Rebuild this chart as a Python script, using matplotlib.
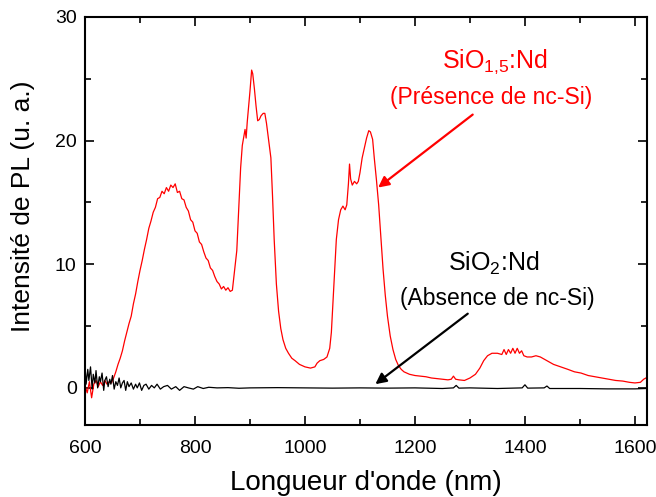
import matplotlib
matplotlib.use("Agg")
import matplotlib.pyplot as plt
from matplotlib.ticker import MultipleLocator

plt.rcParams['font.family'] = ['Liberation Sans', 'DejaVu Sans']
plt.rcParams['mathtext.fontset'] = 'custom'
plt.rcParams['mathtext.rm'] = 'Liberation Sans'
plt.rcParams['mathtext.it'] = 'Liberation Sans'
plt.rcParams['mathtext.default'] = 'regular'

# SiO1,5:Nd (red)
red_nm = [600, 604, 608, 612, 616, 620, 624, 628, 632, 636, 640, 644, 648, 652, 656, 660,
          664, 668, 672, 676, 680, 684, 688, 692, 696, 700, 704, 708, 712, 716, 720, 724,
          728, 732, 736, 740, 744, 748, 752, 756, 760, 764, 768, 772, 776, 780, 784, 788,
          792, 796, 800, 804, 808, 812, 816, 820, 824, 828, 832, 836, 840, 844, 848, 852,
          856, 860, 864, 868, 872, 876, 880, 883, 886, 889, 891, 893, 895, 897, 900, 903,
          905, 908, 911, 914, 917, 920, 924, 927, 930, 934, 938, 941, 944, 948, 952, 956,
          960, 965, 970, 976, 982, 990, 1000, 1010, 1018, 1022, 1027, 1034, 1040, 1045,
          1048, 1051, 1054, 1057, 1061, 1065, 1069, 1073, 1076, 1079, 1081, 1083, 1086,
          1090, 1094, 1097, 1100, 1104, 1108, 1112, 1116, 1119, 1123, 1126, 1130, 1134,
          1138, 1142, 1146, 1150, 1155, 1160, 1165, 1170, 1175, 1180, 1190, 1200, 1210,
          1220, 1230, 1240, 1250, 1260, 1266, 1270, 1274, 1280, 1290, 1300, 1310, 1318,
          1325, 1332, 1340, 1350, 1358, 1362, 1366, 1370, 1374, 1378, 1382, 1386, 1390,
          1394, 1398, 1404, 1412, 1420, 1428, 1440, 1452, 1465, 1478, 1490, 1502, 1515,
          1528, 1540, 1552, 1565, 1578, 1590, 1600, 1610, 1616, 1620]
red_val = [0.2, -0.4, 0.5, -0.8, 0.3, 0.6, 0.1, 0.5, 0.2, 0.6, 0.3, 0.5, 0.4, 0.8, 1.3, 1.9,
           2.4, 3.0, 3.8, 4.5, 5.2, 5.8, 6.8, 7.6, 8.6, 9.5, 10.3, 11.2, 12.0, 12.9, 13.5, 14.2,
           14.6, 15.3, 15.4, 15.9, 15.7, 16.2, 15.9, 16.4, 16.2, 16.5, 15.8, 15.9, 15.3, 15.2,
           14.6, 14.3, 13.6, 13.4, 12.7, 12.5, 11.8, 11.6, 11.0, 10.5, 10.3, 9.7, 9.5, 9.0,
           8.6, 8.4, 8.0, 8.2, 7.9, 8.1, 7.8, 7.9, 9.5, 11.1, 14.9, 17.8, 19.6, 20.4, 20.9,
           20.2, 21.5, 22.5, 24.0, 25.7, 25.4, 24.2, 22.8, 21.6, 21.7, 22.0, 22.2, 22.2, 21.4,
           20.0, 18.6, 15.5, 12.0, 8.4, 6.2, 4.8, 3.9, 3.2, 2.8, 2.4, 2.2, 1.9, 1.7, 1.6, 1.7,
           2.0, 2.2, 2.3, 2.5, 3.2, 4.5, 7.0, 9.5, 12.0, 13.6, 14.4, 14.7, 14.4, 14.8, 16.5,
           18.1, 16.9, 16.4, 16.7, 16.5, 16.7, 17.4, 18.6, 19.4, 20.2, 20.8, 20.7, 20.1, 18.6,
           16.8, 14.8, 12.2, 9.6, 7.5, 5.8, 4.2, 3.1, 2.3, 1.8, 1.5, 1.3, 1.1, 1.0, 0.95, 0.9,
           0.8, 0.75, 0.7, 0.65, 0.7, 0.95, 0.7, 0.65, 0.6, 0.8, 1.1, 1.6, 2.2, 2.6, 2.8, 2.8,
           2.7, 3.1, 2.7, 3.1, 2.8, 3.2, 2.8, 3.2, 2.8, 3.0, 2.6, 2.5, 2.5, 2.6, 2.5, 2.2, 1.9,
           1.7, 1.5, 1.3, 1.2, 1.0, 0.9, 0.8, 0.7, 0.6, 0.55, 0.45, 0.4, 0.45, 0.7, 0.8]

# SiO2:Nd (black)
black_nm = [600, 602, 605, 607, 610, 613, 615, 618, 620, 623, 626, 628, 631, 634, 636, 639,
            642, 645, 647, 650, 653, 656, 659, 662, 665, 668, 671, 674, 677, 680, 684, 688,
            692, 695, 699, 703, 707, 711, 716, 721, 726, 731, 737, 743, 750, 757, 765, 772,
            780, 788, 797, 805, 815, 825, 840, 860, 880, 900, 950, 1000, 1050, 1100, 1150,
            1200, 1250, 1270, 1275, 1280, 1300, 1350, 1395, 1400, 1405, 1435, 1440, 1445,
            1500, 1550, 1600, 1620]
black_val = [1.8, 0.3, 1.5, 0.6, 1.7, -0.1, 1.1, 0.4, 1.4, 0.0, 0.9, 0.5, 1.2, -0.2, 0.6, 0.9,
             0.1, 0.7, 0.3, 1.0, -0.1, 0.5, 0.2, 0.8, 0.0, 0.4, 0.6, -0.2, 0.5, 0.1, 0.4, -0.1,
             0.3, 0.0, 0.4, -0.2, 0.2, 0.3, -0.1, 0.2, 0.0, 0.3, -0.1, 0.1, 0.2, -0.1, 0.1, -0.2,
             0.1, 0.0, -0.1, 0.1, -0.05, 0.05, 0.0, 0.02, -0.03, 0.0, 0.02, 0.0, -0.02, 0.0,
             -0.02, 0.0, -0.05, 0.0, 0.2, -0.02, 0.0, -0.05, 0.0, 0.25, -0.02, 0.0, 0.15, -0.05,
             -0.05, -0.08, -0.08, -0.05]

fig = plt.figure(figsize=(6.56, 4.97), dpi=100)
ax = fig.add_axes([0.1296, 0.1449, 0.8567, 0.8211])

ax.plot(red_nm, red_val, color='red', lw=0.9)
ax.plot(black_nm, black_val, color='black', lw=0.9)

ax.set_xlim(600, 1622)
ax.set_ylim(-3, 30)
ax.xaxis.set_major_locator(MultipleLocator(200))
ax.xaxis.set_minor_locator(MultipleLocator(100))
ax.yaxis.set_major_locator(MultipleLocator(10))
ax.yaxis.set_minor_locator(MultipleLocator(5))
ax.tick_params(which='both', direction='in', top=True, right=True, width=1.2, labelsize=14)
ax.tick_params(which='major', length=6.5)
ax.tick_params(which='minor', length=4)
ax.tick_params(axis='x', which='major', pad=11)
ax.tick_params(axis='y', which='major', pad=6)
for s in ax.spines.values():
    s.set_linewidth(1.5)

ax.set_xlabel("Longueur d'onde (nm)", fontsize=20)
ax.set_ylabel("Intensité de PL (u. a.)", fontsize=19)
ax.xaxis.set_label_coords(0.5, -0.11)
ax.yaxis.set_label_coords(-0.089, 0.537)

ax.text(1345, 26.4, "SiO$_{1{,}5}$:Nd", color='red', fontsize=18, ha='center', va='center')
ax.text(1338, 23.5, "(Présence de nc-Si)", color='red', fontsize=16.5, ha='center', va='center')
ax.text(1344, 10.1, "SiO$_2$:Nd", color='black', fontsize=18, ha='center', va='center')
ax.text(1350, 7.2, "(Absence de nc-Si)", color='black', fontsize=16.5, ha='center', va='center')

ax.annotate("", xy=(1133, 16.2), xytext=(1305, 22.1),
            arrowprops=dict(arrowstyle='-|>', color='red', lw=1.6, mutation_scale=16,
                            shrinkA=0, shrinkB=0))
ax.annotate("", xy=(1128, 0.3), xytext=(1296, 6.0),
            arrowprops=dict(arrowstyle='-|>', color='black', lw=1.6, mutation_scale=16,
                            shrinkA=0, shrinkB=0))

plt.savefig("out.png", dpi=100)
